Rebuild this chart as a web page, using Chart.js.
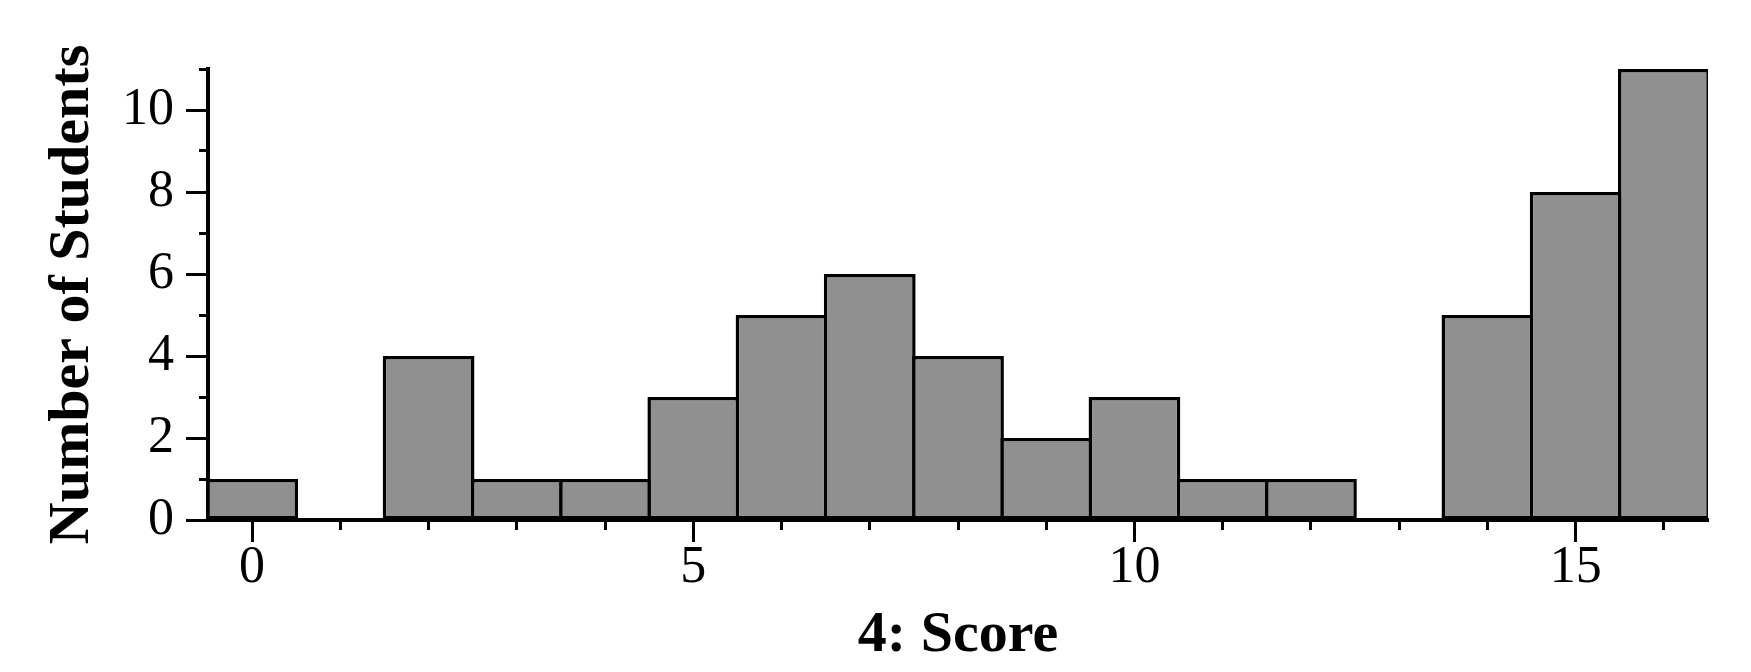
<!DOCTYPE html>
<html lang="en">
<head>
  <meta charset="UTF-8">
  <title>4: Score histogram</title>
  <script src="https://cdn.jsdelivr.net/npm/chart.js"></script>
  <style>
    html, body {
      margin: 0;
      padding: 0;
      background: #fff;
    }
    .wrap {
      width: 1751px;
      height: 672px;
      position: relative;
    }
  </style>
</head>
<body>
  <div class="wrap">
    <canvas id="scoreChart"></canvas>
  </div>
  <script>
    // score bins and student counts
    const scores = ['0','1','2','3','4','5','6','7','8','9','10','11','12','13','14','15','16'];
    const students = [1, 0, 4, 1, 1, 3, 5, 6, 4, 2, 3, 1, 1, 0, 5, 8, 11];
    const xLabelled = [0, 5, 10, 15];
    const yLabelled = [0, 2, 4, 6, 8, 10];

    const serif = "'Liberation Serif', 'Times New Roman', serif";

    // long tick for labelled values, short one for the others
    const xTickDash = ctx => {
      const v = Number(scores[ctx.index]);
      return xLabelled.includes(v) ? [] : [8, 200];
    };
    const yTickDash = ctx => {
      const v = ctx.tick ? ctx.tick.value : 0;
      return yLabelled.includes(v) ? [] : [0, 13, 9, 200];
    };

    new Chart(document.getElementById('scoreChart'), {
      type: 'bar',
      data: {
        labels: scores,
        datasets: [{
          data: students,
          backgroundColor: '#909090',
          borderColor: '#000',
          borderWidth: 3.5,
          borderSkipped: false,
          barPercentage: 1.04,
          categoryPercentage: 1
        }]
      },
      options: {
        responsive: true,
        maintainAspectRatio: false,
        animation: false,
        layout: { padding: { top: 69, right: 43, left: 0, bottom: 0 } },
        plugins: {
          legend: { display: false },
          tooltip: { enabled: false }
        },
        scales: {
          x: {
            type: 'category',
            offset: true,
            afterFit: s => { s.height = 152; },
            border: { display: true, color: '#000', width: 4 },
            grid: {
              offset: false,
              drawOnChartArea: false,
              tickLength: 22,
              tickWidth: 3,
              tickColor: '#000',
              tickBorderDash: xTickDash
            },
            ticks: {
              autoSkip: false,
              maxRotation: 0,
              color: '#000',
              padding: 0,
              font: { family: serif, size: 52, lineHeight: 1 },
              callback: (v, i) => xLabelled.includes(Number(scores[i])) ? scores[i] : ''
            },
            title: {
              display: true,
              text: '4: Score',
              color: '#000',
              padding: { top: 0, bottom: 7 },
              font: { family: serif, size: 58, weight: 'bold', lineHeight: 1 }
            }
          },
          y: {
            min: 0,
            max: 11,
            afterFit: s => { s.width = 208; },
            border: { display: true, color: '#000', width: 4 },
            grid: {
              drawOnChartArea: false,
              tickLength: 22,
              tickWidth: 3,
              tickColor: '#000',
              tickBorderDash: yTickDash
            },
            ticks: {
              stepSize: 1,
              autoSkip: false,
              color: '#000',
              padding: 12,
              font: { family: serif, size: 52, lineHeight: 1 },
              callback: v => yLabelled.includes(v) ? String(v) : ''
            },
            title: {
              display: true,
              text: 'Number of Students',
              color: '#000',
              padding: { top: 44, bottom: 0 },
              font: { family: serif, size: 58, weight: 'bold', lineHeight: 1 }
            }
          }
        }
      }
    });
  </script>
</body>
</html>
